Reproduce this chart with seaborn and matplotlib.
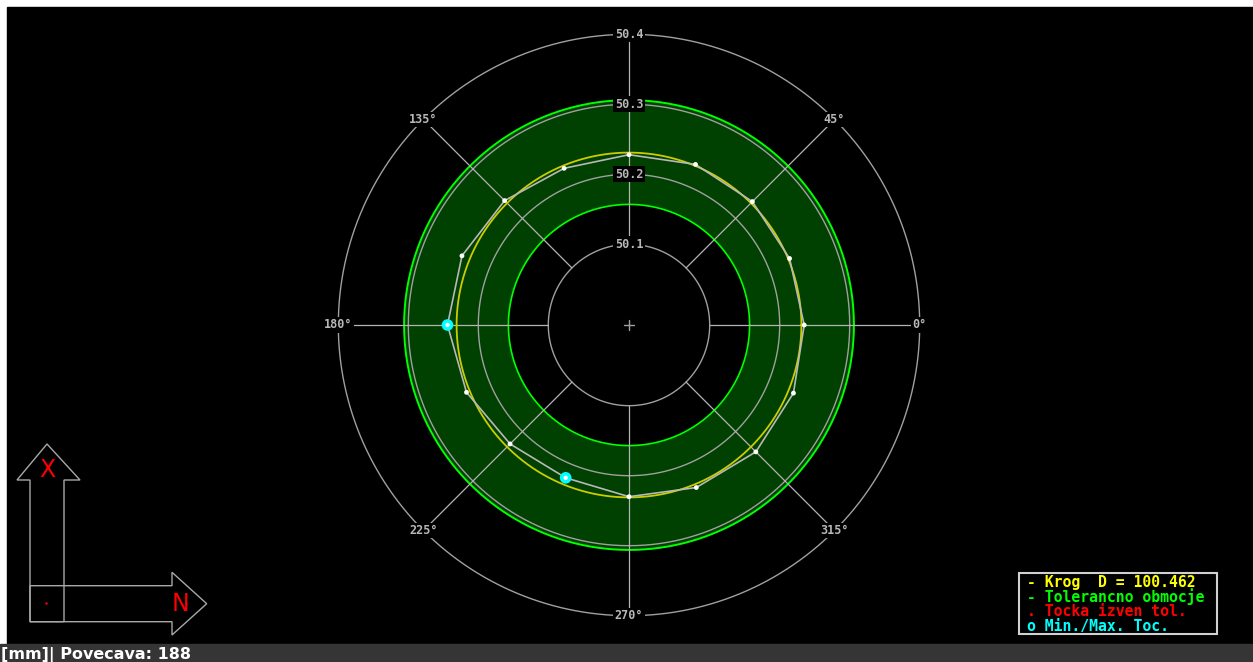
import numpy as np
import pandas as pd
import matplotlib
matplotlib.use("Agg")
import matplotlib.pyplot as plt
from matplotlib.patches import Rectangle, Polygon
import seaborn as sns

# --- podatki meritve okroglosti ---
angles_deg = [0, 22.5, 45, 67.5, 90, 112.5, 135, 157.5,
              180, 202.5, 225, 247.5, 270, 292.5, 315, 337.5]
profile_mm = [50.235, 50.233, 50.234, 50.233, 50.228, 50.227, 50.236, 50.243,
              50.244, 50.236, 50.225, 50.221, 50.230, 50.236, 50.241, 50.239]
ring_values = [50.1, 50.2, 50.3, 50.4]
ring_labels = ["50.1", "50.2", "50.3", "50.4"]
spoke_deg = [0, 45, 90, 135, 180, 225, 270, 315]
spoke_labels = ["0°", "45°", "", "135°", "180°", "225°", "270°", "315°"]
tol_inner = 50.157
tol_outer = 50.306
krog_D = 100.462
legend_lines = ["- Krog  D = 100.462", "- Tolerancno obmocje",
                ". Tocka izven tol.", "o Min./Max. Toc."]
legend_colors = ["#ffff00", "#00ff00", "#ff0000", "#00ffff"]
status_text = "[mm]| Povecava: 188"

W, H = 1253, 662
sns.set_style("dark", {"axes.facecolor": "black", "figure.facecolor": "white"})
plt.rcParams["font.family"] = ["DejaVu Sans"]

fig = plt.figure(figsize=(W / 100, H / 100), dpi=100)

# ozadje v pikslih
bg = fig.add_axes([0, 0, 1, 1])
bg.set_xlim(0, W)
bg.set_ylim(H, 0)
bg.set_axis_off()
bg.add_patch(Rectangle((7, 7), W - 7, 637, color="black"))
bg.add_patch(Rectangle((0, 644), W, 18, color="#353535"))
bg.text(1, 655, status_text, color="white", fontsize=11.5, fontweight="bold",
        va="center", ha="left")

# puscici X / N
arrow_col = "#a8a8a8"
bg.add_patch(Polygon([(30, 621.7), (30, 480), (17, 480), (47, 444), (80, 480),
                      (64, 480), (64, 621.7)], closed=True, fill=False,
                     edgecolor=arrow_col, lw=1))
bg.add_patch(Polygon([(30, 585.7), (172, 585.7), (172, 572.3), (206.7, 603.7),
                      (172, 635), (172, 621.7), (30, 621.7)], closed=True,
                     fill=False, edgecolor=arrow_col, lw=1))
bg.text(47, 470, "X", color="red", fontsize=17, ha="center", va="center")
bg.text(180, 604, "N", color="red", fontsize=17, ha="center", va="center")
bg.plot([46], [603], marker=".", ms=1.5, color="red")

# sredisce
bg.plot([624, 634], [325, 325], color="#a0a0a0", lw=1)
bg.plot([629, 629], [320, 330], color="#a0a0a0", lw=1)

# legenda
bg.add_patch(Rectangle((1019, 573), 198, 61, facecolor="black",
                       edgecolor="#d0d0d0", lw=1.5))
for i, (txt, col) in enumerate(zip(legend_lines, legend_colors)):
    bg.text(1027, 582 + 15 * i, txt, color=col, fontsize=10.6,
            family="DejaVu Sans Mono", fontweight="bold", va="center", ha="left")

# polarni diagram, center na (629, 325) px, 700 px / mm
cx, cy, S = 629, 325, 300
px_per_mm = 700
r0 = 50.1 - 80.7 / px_per_mm
ax = fig.add_axes([(cx - S) / W, (H - cy - S) / H, 2 * S / W, 2 * S / H],
                  projection="polar")
ax.set_facecolor("none")
ax.set_ylim(r0, r0 + S / px_per_mm)
ax.set_axis_off()

th = np.linspace(0, 2 * np.pi, 721)
ax.fill_between(th, tol_inner, tol_outer, color="#004000", lw=0, zorder=1)
ax.plot(th, np.full_like(th, tol_inner), color="#00ff00", lw=1.2, zorder=2)
ax.plot(th, np.full_like(th, tol_outer), color="#00ff00", lw=1.4, zorder=2)

for rv in ring_values:
    ax.plot(th, np.full_like(th, rv), color="#a0a0a0", lw=1.0, zorder=3)

for a in spoke_deg:
    t = np.deg2rad(a)
    ax.plot([t, t], [ring_values[0], ring_values[-1]], color="#b4b4b4",
            lw=0.9, zorder=3)

# krog najmanjsih kvadratov
ax.plot(th, np.full_like(th, krog_D / 2), color="#cccc00", lw=1.3, zorder=4)

# izmerjeni profil
df = pd.DataFrame({"theta": np.deg2rad(angles_deg), "r": profile_mm})
df_closed = pd.concat([df, df.iloc[:1]], ignore_index=True)
sns.lineplot(data=df_closed, x="theta", y="r", sort=False, estimator=None,
             color="#b8b8b8", lw=1.2, ax=ax, zorder=5)
sns.scatterplot(data=df, x="theta", y="r", color="white", s=12,
                edgecolor="none", ax=ax, zorder=6)
mm_pts = df.iloc[[df["r"].idxmin(), df["r"].idxmax()]]
sns.scatterplot(data=mm_pts, x="theta", y="r", color="#00ffff", s=70,
                edgecolor="none", ax=ax, zorder=7)
sns.scatterplot(data=mm_pts, x="theta", y="r", color="white", s=10,
                edgecolor="none", ax=ax, zorder=8)
ax.set_xlabel("")
ax.set_ylabel("")

# oznake
box = dict(facecolor="black", edgecolor="none", pad=1.0)
for rv, lab in zip(ring_values, ring_labels):
    ax.text(np.pi / 2, rv, lab, color="#b8b8b8", fontsize=8.5,
            family="DejaVu Sans Mono", fontweight="bold", ha="center",
            va="center", bbox=box, zorder=9, clip_on=False)
for a, lab in zip(spoke_deg, spoke_labels):
    if lab:
        ax.text(np.deg2rad(a), ring_values[-1], lab, color="#b8b8b8",
                fontsize=8.5, family="DejaVu Sans Mono", fontweight="bold",
                ha="center", va="center", bbox=box, zorder=9, clip_on=False)

fig.savefig("out.png", dpi=100, facecolor="white")
